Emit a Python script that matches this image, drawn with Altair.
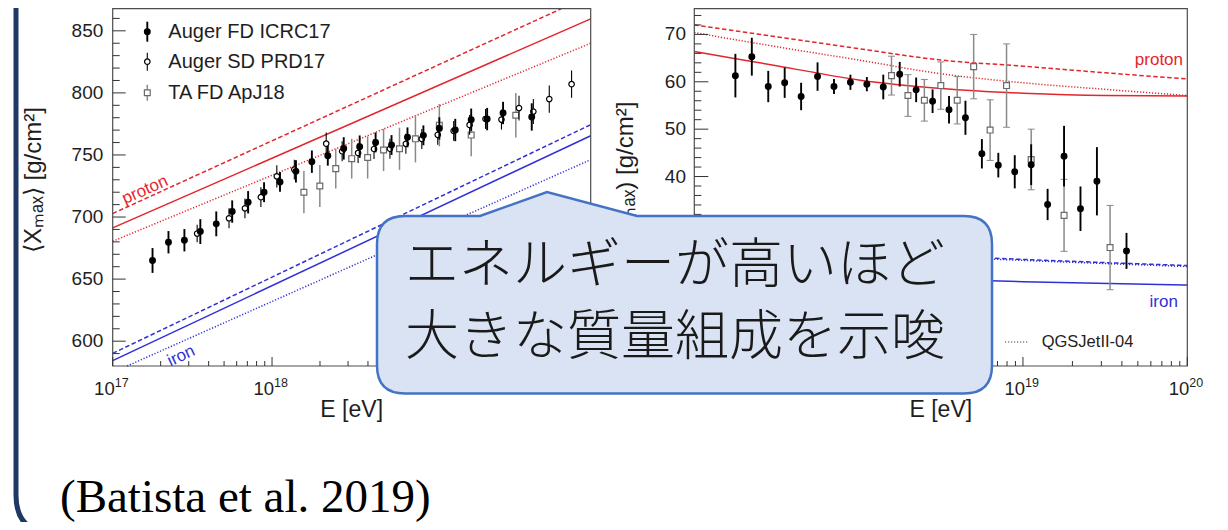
import altair as alt
import numpy as np
import pandas as pd

# ---------------- data ----------------
# Left panel: <Xmax> [g/cm^2] vs log10(E/eV)
fd_logE = [17.25, 17.35, 17.45, 17.55, 17.65, 17.75, 17.85, 17.95, 18.05, 18.15, 18.25, 18.35,
           18.45, 18.55, 18.65, 18.75, 18.85, 18.95, 19.05, 19.15, 19.25, 19.35, 19.45, 19.63]
fd_xmax = [665.0, 679.7, 681.3, 688.3, 694.5, 704.4, 711.9, 720.0, 728.3, 736.8, 744.6, 749.4,
           755.3, 756.7, 760.1, 758.0, 764.2, 765.8, 771.4, 770.1, 778.4, 778.9, 783.8, 780.6]
fd_xmax_err = [10, 9, 9, 10, 10, 9, 9, 8, 8, 9, 9, 8, 9, 9, 8, 8, 8, 8, 9, 9, 9, 9, 9, 11]

sd_logE = [17.53, 17.73, 17.83, 17.93, 18.03, 18.14, 18.34, 18.44, 18.54, 18.64, 18.74,
           18.84, 18.94, 19.04, 19.14, 19.24, 19.34, 19.44, 19.55, 19.64, 19.74, 19.88]
sd_xmax = [686.7, 699.0, 707.0, 716.0, 732.8, 738.2, 759.1, 753.0, 751.6, 754.8, 755.0,
           759.0, 762.9, 766.2, 769.4, 774.2, 779.0, 778.5, 787.8, 785.0, 795.0, 807.0]
sd_xmax_err = [7, 8, 8, 8, 9, 8, 9, 8, 8, 8, 8, 8, 8, 8, 8, 8, 8, 8, 10, 10, 11, 11]

ta_logE = [18.2, 18.3, 18.4, 18.5, 18.6, 18.7, 18.8, 18.9, 19.05, 19.25, 19.53]
ta_xmax = [720.0, 725.0, 739.0, 747.0, 748.0, 754.0, 755.0, 763.0, 774.0, 766.0, 782.0]
ta_xmax_err = [17, 17, 16, 16, 17, 17, 17, 19, 17, 17, 18]

# Right panel: sigma(Xmax) [g/cm^2]
fd_sigma = [61.3, 65.3, 59.0, 59.8, 56.9, 61.1, 59.0, 59.9, 59.5, 58.9, 61.6, 58.3,
            55.9, 54.1, 52.4, 44.8, 42.4, 41.0, 42.5, 34.1, 44.3, 33.2, 39.0, 24.3]
fd_sigma_err = [4.6, 4.0, 3.3, 3.2, 2.9, 3.0, 1.6, 1.6, 1.5, 2.6, 2.6, 2.6,
                2.5, 2.9, 3.6, 3.1, 2.6, 3.5, 4.3, 3.3, 6.4, 4.7, 7.2, 3.8]
ta_sigma = [61.3, 57.1, 56.1, 59.2, 56.1, 63.2, 49.8, 59.2, 43.6, 31.8, 25.0]
ta_sigma_err = [4.1, 4.4, 4.4, 5.0, 5.0, 6.8, 6.4, 8.8, 6.4, 7.6, 8.9]

# Model predictions (solid EPOS-LHC, dashed Sibyll2.3c, dotted QGSJetII-04)
xmax_line_logE = [17.0, 20.0]
xmax_proton_epos = [691.3, 859.6]
xmax_proton_sibyll = [702.8, 878.6]
xmax_proton_qgsjet = [680.5, 840.0]
xmax_iron_epos = [584.3, 765.5]
xmax_iron_sibyll = [590.2, 774.4]
xmax_iron_qgsjet_logE = [17.09, 20.0]
xmax_iron_qgsjet = [580.0, 746.2]

sigma_line_logE = [17.0, 17.5, 18.0, 18.5, 19.0, 19.5, 20.0]
sigma_proton_epos = [66.4, 63.4, 60.4, 58.6, 57.6, 57.1, 57.0]
sigma_proton_sibyll = [72.0, 69.5, 67.0, 64.6, 63.3, 61.9, 60.6]
sigma_proton_qgsjet = [70.4, 67.4, 64.6, 61.7, 59.8, 58.4, 57.1]
sigma_iron_logE = [17.0, 18.0, 19.0, 20.0]
sigma_iron_epos = [19.6, 18.8, 17.8, 17.1]
sigma_iron_sibyll = [25.2, 24.0, 22.5, 21.2]
sigma_iron_qgsjet = [25.0, 23.8, 22.3, 21.0]

legend_names = ["Auger FD ICRC17", "Auger SD PRD17", "TA FD ApJ18"]
model_legend_name = "QGSJetII-04"
xmax_ticks = [600, 650, 700, 750, 800, 850]
sigma_ticks = [0, 10, 20, 30, 40, 50, 60, 70]
sigma_tick_labels_visible = [40, 50, 60, 70]      # the rest lie under the bubble
decade_ticks = [17, 18, 19, 20]
left_decade_labels_visible = [17, 18]
right_decade_labels_visible = [19, 20]
bubble_lines = ["エネルギーが高いほど", "大きな質量組成を示唆"]
citation = "(Batista et al. 2019)"

# ---------------- styling / layout ----------------
RED = "#e3262d"
BLUE = "#3030d6"
NAVY = "#203864"
GRAY = "#8a8a8a"
SANS = "Liberation Sans"
CJK = "Noto Sans CJK JP Light, Noto Sans CJK JP DemiLight, Noto Sans CJK JP"

LX = alt.Scale(domain=[17, 20], range=[104.7, 582.7], nice=False, zero=False)
LY = alt.Scale(domain=[580, 870], range=[358, -2], nice=False, zero=False)
RX = alt.Scale(domain=[17, 20], range=[686.3, 1179.3], nice=False, zero=False)
RY = alt.Scale(domain=[0, 76], range=[358, -2], nice=False, zero=False)
L_X0, R_X0, Y_BOT = 104.7, 686.3, 358

one = pd.DataFrame({"a": [0]})


def X(f, s):
    return alt.X(f"{f}:Q", scale=s, axis=None)


def Y(f, s):
    return alt.Y(f"{f}:Q", scale=s, axis=None)


def series_layers(logE, val, err, xs, ys, kind, caps=False):
    df = pd.DataFrame({"logE": logE, "v": val, "e": err})
    df["lo"] = df["v"] - df["e"]
    df["hi"] = df["v"] + df["e"]
    base = alt.Chart(df)
    if kind == "fd":
        bar = base.mark_rule(color="black", strokeWidth=1.9)
        pt = base.mark_point(shape="circle", filled=True, color="black", size=48, opacity=1)
    elif kind == "sd":
        bar = base.mark_rule(color="black", strokeWidth=1.1)
        pt = base.mark_point(shape="circle", filled=True, fill="white", stroke="black",
                             strokeWidth=1.2, size=30, opacity=1)
    else:
        bar = base.mark_rule(color=GRAY, strokeWidth=1.5)
        pt = base.mark_point(shape="square", filled=True, fill="white", stroke="#6a6a6a",
                             strokeWidth=1.2, size=34, opacity=1)
    out = [bar.encode(x=X("logE", xs), y=Y("lo", ys), y2="hi")]
    if caps:
        for f in ["lo", "hi"]:
            out.append(base.mark_tick(orient="horizontal", size=7, thickness=1, color=GRAY,
                                      opacity=1).encode(x=X("logE", xs), y=Y(f, ys)))
    out.append(pt.encode(x=X("logE", xs), y=Y("v", ys)))
    return out


def model_line(logE, vals, color, dash, xs, ys):
    df = pd.DataFrame({"logE": logE, "v": vals})
    mk = dict(color=color, strokeWidth=1.5, interpolate="monotone")
    if dash is not None:
        mk["strokeDash"] = dash
    return alt.Chart(df).mark_line(**mk).encode(x=X("logE", xs), y=Y("v", ys))


DASH = [4.5, 2.5]
DOT = [1.2, 1.8]

layers = []

# ---- model lines ----
for vals, col, dash in [(xmax_proton_epos, RED, None), (xmax_proton_sibyll, RED, DASH),
                        (xmax_proton_qgsjet, RED, DOT), (xmax_iron_epos, BLUE, None),
                        (xmax_iron_sibyll, BLUE, DASH)]:
    layers.append(model_line(xmax_line_logE, vals, col, dash, LX, LY))
layers.append(model_line(xmax_iron_qgsjet_logE, xmax_iron_qgsjet, BLUE, DOT, LX, LY))

for vals, col, dash in [(sigma_proton_epos, RED, None), (sigma_proton_sibyll, RED, DASH),
                        (sigma_proton_qgsjet, RED, DOT)]:
    layers.append(model_line(sigma_line_logE, vals, col, dash, RX, RY))
for vals, col, dash in [(sigma_iron_epos, BLUE, None), (sigma_iron_sibyll, BLUE, DASH),
                        (sigma_iron_qgsjet, BLUE, DOT)]:
    layers.append(model_line(sigma_iron_logE, vals, col, dash, RX, RY))

# ---- data points ----
layers += series_layers(ta_logE, ta_xmax, ta_xmax_err, LX, LY, "ta")
layers += series_layers(sd_logE, sd_xmax, sd_xmax_err, LX, LY, "sd")
layers += series_layers(fd_logE, fd_xmax, fd_xmax_err, LX, LY, "fd")
layers += series_layers(ta_logE, ta_sigma, ta_sigma_err, RX, RY, "ta", caps=True)
layers += series_layers(fd_logE, fd_sigma, fd_sigma_err, RX, RY, "fd")

# ---- frames ----
for x0, x1 in [(L_X0, 582.7), (R_X0, 1179.3)]:
    layers.append(alt.Chart(one).mark_rect(fillOpacity=0, stroke="#4d4d4d", strokeWidth=1.2).encode(
        x=alt.value(x0), x2=alt.value(x1), y=alt.value(0.7), y2=alt.value(Y_BOT)))

# ---- ticks (inside, ROOT style) ----
minor_decade = [np.log10(k) + n for n in (17, 18, 19) for k in range(2, 10)]
TICK = "#333333"
for xs, x0 in [(LX, L_X0), (RX, R_X0)]:
    layers.append(alt.Chart(pd.DataFrame({"v": decade_ticks})).mark_rule(color=TICK, strokeWidth=1).encode(
        x=X("v", xs), y=alt.value(Y_BOT), y2=alt.value(Y_BOT - 9)))
    layers.append(alt.Chart(pd.DataFrame({"v": minor_decade})).mark_rule(color=TICK, strokeWidth=1).encode(
        x=X("v", xs), y=alt.value(Y_BOT), y2=alt.value(Y_BOT - 5)))

l_minor = [v for v in range(590, 870, 10) if v not in xmax_ticks]
layers.append(alt.Chart(pd.DataFrame({"v": xmax_ticks})).mark_rule(color=TICK, strokeWidth=1).encode(
    y=Y("v", LY), x=alt.value(L_X0), x2=alt.value(L_X0 + 13)))
layers.append(alt.Chart(pd.DataFrame({"v": l_minor})).mark_rule(color=TICK, strokeWidth=1).encode(
    y=Y("v", LY), x=alt.value(L_X0), x2=alt.value(L_X0 + 7)))
r_minor = [v for v in range(2, 76, 2) if v not in sigma_ticks]
layers.append(alt.Chart(pd.DataFrame({"v": sigma_ticks})).mark_rule(color=TICK, strokeWidth=1).encode(
    y=Y("v", RY), x=alt.value(R_X0), x2=alt.value(R_X0 + 14)))
layers.append(alt.Chart(pd.DataFrame({"v": r_minor})).mark_rule(color=TICK, strokeWidth=1).encode(
    y=Y("v", RY), x=alt.value(R_X0), x2=alt.value(R_X0 + 7)))

# ---- tick labels ----
LABEL = "#1e1e1e"
layers.append(alt.Chart(pd.DataFrame({"v": xmax_ticks, "t": [str(v) for v in xmax_ticks]})).mark_text(
    align="right", baseline="middle", fontSize=19, font=SANS, color=LABEL).encode(
    y=Y("v", LY), x=alt.value(95.3), text="t:N"))
layers.append(alt.Chart(pd.DataFrame({"v": sigma_tick_labels_visible,
                                      "t": [str(v) for v in sigma_tick_labels_visible]})).mark_text(
    align="right", baseline="middle", fontSize=19, font=SANS, color=LABEL).encode(
    y=Y("v", RY), x=alt.value(678), text="t:N"))
for xs, vis in ((LX, left_decade_labels_visible), (RX, right_decade_labels_visible)):
    dec_df = pd.DataFrame({"v": vis, "b": ["10"] * len(vis), "e": [str(v) for v in vis]})
    layers.append(alt.Chart(dec_df).mark_text(align="right", baseline="alphabetic", fontSize=18.5,
                                              font=SANS, color=LABEL, dx=2).encode(
        x=X("v", xs), y=alt.value(387), text="b:N"))
    layers.append(alt.Chart(dec_df).mark_text(align="left", baseline="alphabetic", fontSize=12.5,
                                              font=SANS, color=LABEL, dx=2).encode(
        x=X("v", xs), y=alt.value(379), text="e:N"))

# ---- axis titles ----
for xc in (343.7, 932.8):
    layers.append(alt.Chart(one).mark_text(text="E [eV]", fontSize=23, font=SANS, color=LABEL,
                                           align="center", baseline="alphabetic").encode(
        x=alt.value(xc), y=alt.value(409)))
layers.append(alt.Chart(one).mark_text(text="⟨Xₘₐₓ⟩ [g/cm²]", fontSize=24, font=SANS, color=LABEL,
                                       align="center", baseline="alphabetic", angle=270).encode(
    x=alt.value(33), y=alt.value(172)))
layers.append(alt.Chart(one).mark_text(text="σ(Xₘₐₓ) [g/cm²]", fontSize=24, font=SANS, color=LABEL,
                                       align="center", baseline="alphabetic", angle=270).encode(
    x=alt.value(625), y=alt.value(173)))

# ---- model labels ----
layers.append(alt.Chart(pd.DataFrame({"logE": [17.203], "v": [721.8]})).mark_text(
    text="proton", fontSize=17, font=SANS, color=RED, angle=336, align="center", baseline="middle").encode(
    x=X("logE", LX), y=Y("v", LY)))
layers.append(alt.Chart(pd.DataFrame({"logE": [17.43], "v": [588.0]})).mark_text(
    text="iron", fontSize=17, font=SANS, color=BLUE, angle=335, align="center", baseline="middle").encode(
    x=X("logE", LX), y=Y("v", LY)))
layers.append(alt.Chart(pd.DataFrame({"logE": [19.974], "v": [63.5]})).mark_text(
    text="proton", fontSize=17, font=SANS, color=RED, align="right", baseline="alphabetic").encode(
    x=X("logE", RX), y=Y("v", RY)))
layers.append(alt.Chart(pd.DataFrame({"logE": [19.943], "v": [12.45]})).mark_text(
    text="iron", fontSize=17, font=SANS, color=BLUE, align="right", baseline="alphabetic").encode(
    x=X("logE", RX), y=Y("v", RY)))

# ---- legend (left panel) ----
leg_y = [23.7, 53.7, 84.7]
leg_x = 139.3
layers.append(alt.Chart(one).mark_rule(color="black", strokeWidth=1.9).encode(
    x=alt.value(leg_x), y=alt.value(leg_y[0] - 10), y2=alt.value(leg_y[0] + 10)))
layers.append(alt.Chart(one).mark_point(shape="circle", filled=True, color="black", size=48, opacity=1).encode(
    x=alt.value(leg_x), y=alt.value(leg_y[0])))
layers.append(alt.Chart(one).mark_rule(color="black", strokeWidth=1.1).encode(
    x=alt.value(leg_x), y=alt.value(leg_y[1] - 9), y2=alt.value(leg_y[1] + 9)))
layers.append(alt.Chart(one).mark_point(shape="circle", filled=True, fill="white", stroke="black",
                                        strokeWidth=1.2, size=30, opacity=1).encode(
    x=alt.value(leg_x), y=alt.value(leg_y[1])))
layers.append(alt.Chart(one).mark_rule(color=GRAY, strokeWidth=1.5).encode(
    x=alt.value(leg_x), y=alt.value(leg_y[2] - 8), y2=alt.value(leg_y[2] + 8)))
layers.append(alt.Chart(one).mark_point(shape="square", filled=True, fill="white", stroke="#6a6a6a",
                                        strokeWidth=1.2, size=34, opacity=1).encode(
    x=alt.value(leg_x), y=alt.value(leg_y[2])))
for name, yy in zip(legend_names, leg_y):
    layers.append(alt.Chart(one).mark_text(text=name, fontSize=20, font=SANS, color=LABEL,
                                           align="left", baseline="middle").encode(
        x=alt.value(160.3), y=alt.value(yy)))

# ---- legend (right panel, visible entry) ----
layers.append(alt.Chart(one).mark_rule(color="#444444", strokeWidth=1.2, strokeDash=DOT).encode(
    x=alt.value(997), x2=alt.value(1021), y=alt.value(334)))
layers.append(alt.Chart(one).mark_text(text=model_legend_name, fontSize=16.5, font=SANS, color=LABEL,
                                       align="left", baseline="middle").encode(
    x=alt.value(1033.7), y=alt.value(334)))

# ---- slide decorations: navy frame, speech bubble, citation ----
frame_path = "M 8 -10 L 8 487 Q 8 525 46 525"
layers.append(alt.Chart(one).mark_point(shape=frame_path, size=4, filled=False, stroke=NAVY,
                                        strokeWidth=5, opacity=1).encode(
    x=alt.value(0), y=alt.value(0)))
bubble_path = ("M 397 208 L 472 208 L 539 184 L 629 208 L 956 208 Q 984 208 984 236 "
               "L 984 357.5 Q 984 385.5 956 385.5 L 397 385.5 Q 369 385.5 369 357.5 "
               "L 369 236 Q 369 208 397 208 Z")
layers.append(alt.Chart(one).mark_point(shape=bubble_path, size=4, filled=True, fill="#dae3f3",
                                        stroke="#4472c4", strokeWidth=2.5, opacity=1).encode(
    x=alt.value(0), y=alt.value(0)))
for line, yy in zip(bubble_lines, [259, 331]):
    layers.append(alt.Chart(one).mark_text(text=line, fontSize=54, font=CJK,
                                           fontWeight=300, color="#1a1a1a", align="left",
                                           baseline="middle").encode(
        x=alt.value(397), y=alt.value(yy)))
layers.append(alt.Chart(one).mark_text(text=citation, fontSize=47, font="Liberation Serif",
                                       color="black", align="left", baseline="alphabetic").encode(
    x=alt.value(52), y=alt.value(504)))

chart = alt.layer(*layers).resolve_scale(x="independent", y="independent").properties(
    width=1212, height=514, autosize=alt.AutoSizeParams(type="none"), padding=0,
    background="white").configure_view(stroke=None)

chart.save("out.html", embed_options={"renderer": "svg", "actions": False})
